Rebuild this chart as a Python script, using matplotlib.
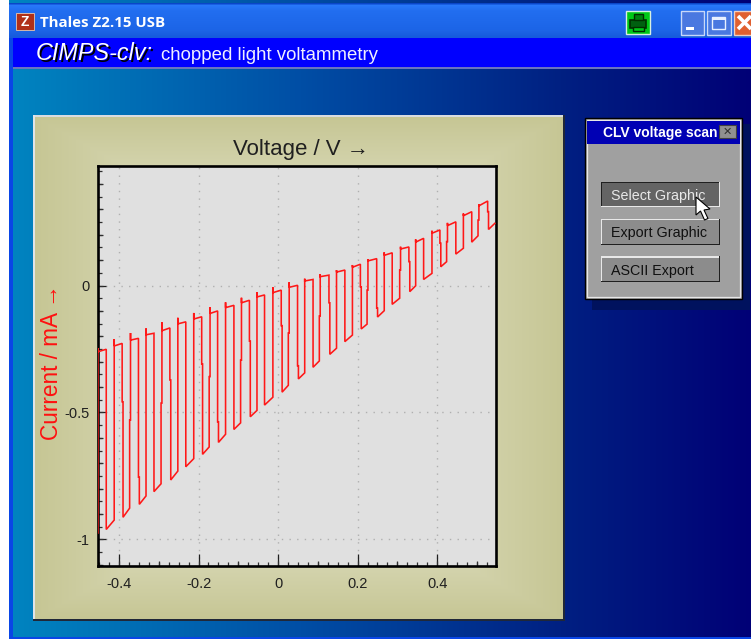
import numpy as np
import matplotlib
matplotlib.use("Agg")
import matplotlib.pyplot as plt
from matplotlib.patches import Rectangle, Polygon

# ---- data (volts / mA) ----
rise_v = [-0.453,-0.412,-0.371,-0.332,-0.292,-0.252,-0.212,-0.171,-0.132,-0.092,-0.053,-0.013,
          0.028,0.067,0.106,0.147,0.187,0.226,0.267,0.308,0.346,0.387,0.426,0.466,0.505]
fall_v = [-0.432,-0.392,-0.351,-0.312,-0.272,-0.232,-0.192,-0.152,-0.111,-0.072,-0.034,0.008,
          0.049,0.088,0.128,0.168,0.207,0.248,0.287,0.329,0.366,0.407,0.447,0.487,0.527]
spike_i = [-0.247,-0.211,-0.187,-0.169,-0.145,-0.127,-0.108,-0.085,-0.066,-0.048,-0.026,-0.007,
           0.013,0.027,0.045,0.061,0.081,0.104,0.131,0.153,0.182,0.216,0.247,0.284,0.321]
plateau_start_i = [-0.261,-0.238,-0.215,-0.194,-0.178,-0.151,-0.132,-0.110,-0.087,-0.068,-0.045,-0.028,
                   -0.007,0.018,0.035,0.053,0.072,0.097,0.119,0.144,0.171,0.206,0.236,0.275,0.314]
plateau_end_i = [-0.251,-0.228,-0.208,-0.188,-0.167,-0.143,-0.123,-0.100,-0.078,-0.058,-0.037,-0.018,
                 0.001,0.024,0.041,0.061,0.084,0.106,0.129,0.152,0.186,0.219,0.251,0.291,0.333]
dark_start_i = [-0.961,-0.913,-0.862,-0.812,-0.766,-0.714,-0.665,-0.618,-0.567,-0.517,-0.471,-0.420,
                -0.368,-0.322,-0.271,-0.221,-0.171,-0.124,-0.074,-0.024,0.024,0.074,0.124,0.171,0.221]
dark_end_i = [-0.924,-0.877,-0.829,-0.781,-0.731,-0.682,-0.636,-0.586,-0.541,-0.492,-0.440,-0.393,
              -0.344,-0.297,-0.247,-0.195,-0.152,-0.099,-0.050,-0.001,0.048,0.094,0.147,0.196,0.245]
first_dark_i = -0.975
last_v = 0.545
# small kinks on the vertical edges: cycle -> current where the edge jogs
fall_kink = {1:-0.458,2:-0.755,4:-0.372,6:-0.309,7:-0.537,9:-0.219,11:-0.158,12:-0.316,
             14:-0.068,16:-0.005,17:-0.089,19:0.094,21:0.167,24:0.291}
rise_kink = {2:-0.530,4:-0.463,7:-0.359,9:-0.294,12:-0.187,14:-0.120,17:-0.018,19:0.061,
             22:0.173,24:0.258}
jog = 0.0022

x_ticks = [-0.4,-0.2,0,0.2,0.4]
x_labels = ["-0.4","-0.2","0","0.2","0.4"]
y_ticks = [-1,-0.5,0]
y_labels = ["-1","-0.5","0"]
x_lim = (-0.454,0.548)
y_lim = (-1.105,0.471)

FONT = ["Liberation Sans","DejaVu Sans"]
W,H = 751,639
fig = plt.figure(figsize=(W/100,H/100),dpi=100,facecolor="white")

# ---- window chrome in pixel coordinates ----
bg = fig.add_axes([0,0,1,1],zorder=0)
bg.set_xlim(0,W); bg.set_ylim(H,0); bg.axis("off")

def rect(x0,y0,x1,y1,**k):
    k.setdefault("lw",0)
    r = Rectangle((x0,y0),x1-x0,y1-y0,**k); bg.add_patch(r); return r

xs = np.arange(W)
grad = np.stack([np.interp(xs,[13,300,560,751],c) for c in
                ([0,0,0,0],[132,78,32,0],[192,165,130,118])],axis=1)[None,:,:]/255
bg.imshow(grad,extent=(0,W,H,0),aspect="auto",zorder=0)
bg.set_xlim(0,W); bg.set_ylim(H,0)

rect(0,0,9,H,color="white",zorder=1)
rect(9,3,13,H,color="#0a46e6",zorder=1)
rect(9,636.5,W,H,color="#0a46e6",zorder=1)
tb = np.interp(np.arange(3,38),[3,5,10,30,37],[0.0,1,0.8,0.6,0.4])
tbc = np.stack([10+30*tb,70+50*tb,200+50*tb],axis=1)[:,None,:]/255
bg.imshow(tbc,extent=(9,W,38,3),aspect="auto",zorder=1)
bg.set_xlim(0,W); bg.set_ylim(H,0)
rect(13,38,W,67,color="#0000ff",zorder=2)
rect(13,67,W,68.5,color="#6a74c0",zorder=2)

rect(16,13,34,30,color="#b03018",ec="#e8c8b0",lw=0.6,zorder=3)
bg.text(25,21.5,"Z",color="white",fontsize=10,fontweight="bold",family=FONT,ha="center",va="center",zorder=4)
bg.text(40,23,"Thales Z2.15 USB",color="white",fontsize=10.8,fontweight="bold",family=["Open Sans","DejaVu Sans"],va="center",zorder=4)
for dx,c,z in ((1.5,"black",4),(0,"white",5)):
    bg.text(36+dx,54+dx,"CIMPS-clv:",color=c,fontsize=16.8,style="italic",family=FONT,va="center",zorder=z)
bg.text(161,55,"chopped light voltammetry",color="#f0f0ff",fontsize=13.45,family=FONT,va="center",zorder=4)

# top right buttons
rect(625.5,10.5,650,34,color="#00c818",ec="#d8f0e0",lw=1,zorder=3)
rect(630,20,646,28,color="#006010",ec="#003000",lw=1.2,zorder=4)
rect(634,14,643,19.5,color="#008010",ec="#003000",lw=1,zorder=4)
rect(633,27,644,31,color="#00c818",ec="#003000",lw=1,zorder=4)
rect(680.5,10.5,704,35,color="#4a78e0",ec="#c8d8f8",lw=1,zorder=3)
rect(686,27,694,30,color="white",zorder=4)
rect(706.5,10.5,731,35,color="#4a78e0",ec="#c8d8f8",lw=1,zorder=3)
rect(712,17,725,29,color="none",ec="#e8f0ff",lw=1.0,zorder=4)
rect(712,17,725,19.5,color="#e8f0ff",zorder=4)
rect(733.5,10.5,760,35,color="#e06030",ec="#f0d0c0",lw=1,zorder=3)
bg.plot([738,751],[16,29],color="white",lw=2.6,zorder=4,solid_capstyle="butt")
bg.plot([738,751],[29,16],color="white",lw=2.6,zorder=4,solid_capstyle="butt")
bg.set_xlim(0,W); bg.set_ylim(H,0)

# main khaki panel with soft edge shading
px0,py0,px1,py1 = 34,116,563,619
yy,xx = np.mgrid[py0:py1,px0:px1]
d = np.minimum(np.minimum(xx-px0,px1-xx)/90,np.minimum(yy-py0,py1-yy)/50).clip(0,1)
edge,mid = np.array([198,198,148]),np.array([211,211,172])
shade = (edge+(mid-edge)*d[...,None])/255
bg.imshow(shade,extent=(px0,px1,py1,py0),aspect="auto",zorder=2)
bg.set_xlim(0,W); bg.set_ylim(H,0)
rect(33,115,564,116.5,color="#d8dce0",zorder=3)
rect(33,115,34.5,620,color="#e0e4e8",zorder=3)
rect(33,619,564.5,620.5,color="#202838",zorder=3)
rect(563,115,564.5,620.5,color="#202838",zorder=3)

# side dialog
rect(592,124,750,310,color="#00125e",zorder=2)
rect(584.5,118,742,299,color="#a0a0a0",ec="black",lw=1,zorder=3)
rect(586.5,120,740,297,color="none",ec="#e8e8e8",lw=0.9,zorder=3)
rect(587,120.5,739.5,143.5,color="#0000b4",zorder=4)
bg.text(603,133,"CLV voltage scan",color="white",fontsize=10,fontweight="bold",family=FONT,va="center",zorder=5)
rect(719,125,735.5,138,color="#909090",ec="#404040",lw=0.8,zorder=6)
bg.text(727.2,131.5,"✕",color="#303030",fontsize=8,family="DejaVu Sans",ha="center",va="center",zorder=7)

def button(y0,y1,label,pressed):
    face = "#646464" if pressed else "#8c8c8c"
    rect(601,y0,720,y1,color=face,zorder=4)
    tl,br = ("#202020","#e8e8e8") if pressed else ("#e8e8e8","#202020")
    rect(601,y0,720,y0+1.2,color=tl,zorder=5); rect(601,y0,602.2,y1,color=tl,zorder=5)
    rect(601,y1-1.2,720,y1,color=br,zorder=5); rect(718.8,y0,720,y1,color=br,zorder=5)
    bg.text(611,(y0+y1)/2+1.5,label,color="#e8e8e8" if pressed else "#101010",fontsize=10.3,
            family=FONT,va="center",zorder=6)
button(181.7,207.3,"Select Graphic",True)
button(218.7,244.7,"Export Graphic",False)
button(256.3,282.3,"ASCII Export",False)
bg.add_patch(Polygon([(696,197),(696,215),(700.5,211),(704.5,220),(708,218.5),(704,210),(710,209)],
                     closed=True,fc="white",ec="black",lw=0.8,zorder=8))

# ---- chart ----
ax = fig.add_axes([97.5/W,1-566/H,(496-97.5)/W,(566-166)/H],zorder=5,facecolor="#e0e0e0")
V,I = [rise_v[0]],[first_dark_i]
for k in range(len(rise_v)):
    if k in rise_kink:
        V += [rise_v[k]-jog,rise_v[k]]; I += [rise_kink[k],rise_kink[k]]
    V += [rise_v[k],rise_v[k],fall_v[k],fall_v[k]]
    I += [spike_i[k],plateau_start_i[k],plateau_end_i[k],plateau_end_i[k]]
    if k in fall_kink:
        V += [fall_v[k],fall_v[k]+jog]; I += [fall_kink[k],fall_kink[k]]
    fk = fall_v[k]+(jog if k in fall_kink else 0)
    nx = rise_v[k+1] if k+1<len(rise_v) else last_v
    nx = nx-(jog if (k+1) in rise_kink else 0)
    V += [fk,nx]; I += [dark_start_i[k],dark_end_i[k]]
ax.plot(V,I,color="#ff1818",lw=1.15,solid_joinstyle="miter",zorder=3,clip_on=True)

ax.set_xlim(*x_lim); ax.set_ylim(*y_lim)
ax.set_xticks(x_ticks); ax.set_xticklabels(x_labels)
ax.set_yticks(y_ticks); ax.set_yticklabels(y_labels)
ax.set_xticks(np.arange(-0.45,0.55,0.025),minor=True)
ax.set_yticks(np.arange(-1.1,0.47,0.05),minor=True)
ax.grid(True,which="major",color="#b0b0b0",ls=(0,(1,4.5)),lw=1,zorder=1)
ax.tick_params(which="major",direction="in",length=8.5,width=0.9,color="#202020",
               labelsize=10.5,labelcolor="#202020")
ax.tick_params(axis="x",which="major",pad=8)
ax.tick_params(axis="y",which="major",pad=6,length=6)
ax.tick_params(which="minor",direction="in",length=2.6,width=0.9,color="#303030")
ax.tick_params(axis="y",which="minor",length=3)
for s in ax.spines.values():
    s.set_linewidth(1.9); s.set_color("black")
for t in ax.get_xticklabels()+ax.get_yticklabels():
    t.set_family(FONT)
ax.vlines(np.arange(-0.4,0.55,0.1),0,5.5/400,transform=ax.get_xaxis_transform(),color="#303030",lw=0.9,zorder=2)
ax.hlines(np.arange(-1.1,0.47,0.1),0,5.5/398.5,transform=ax.get_yaxis_transform(),color="#303030",lw=0.9,zorder=2)

bg.text(301,150,"Voltage / V →",color="#202020",fontsize=16,family=FONT,ha="center",va="center",zorder=6)
bg.text(52,362,"Current / mA →",color="#ff1010",fontsize=16.3,family=FONT,rotation=90,ha="center",va="center",zorder=6)

fig.savefig("out.png",dpi=100)
